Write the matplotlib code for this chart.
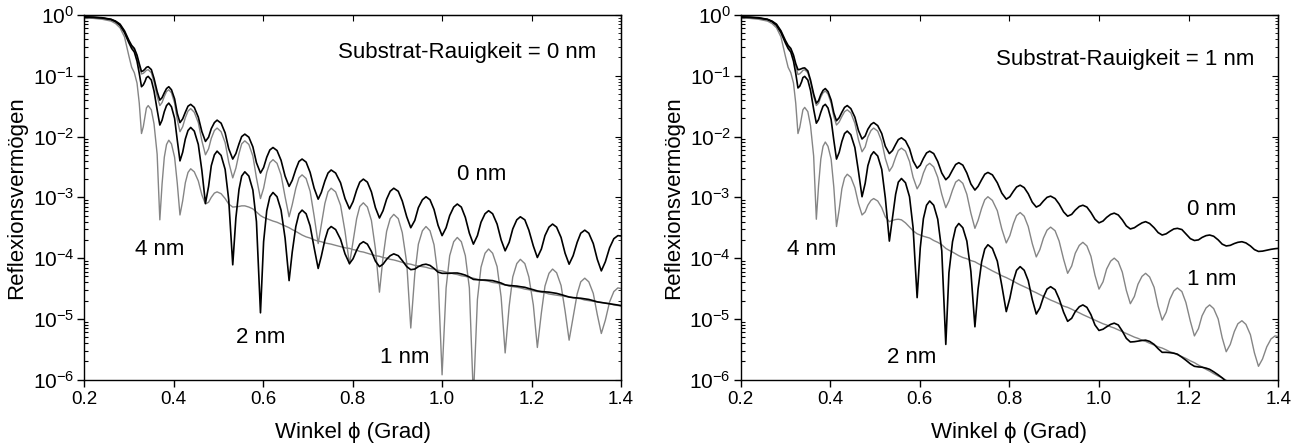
import numpy as np
import matplotlib.pyplot as plt
from matplotlib.ticker import FixedLocator, NullFormatter

plt.rcParams['font.family'] = ['Liberation Sans', 'DejaVu Sans']
plt.rcParams['mathtext.fontset'] = 'custom'
plt.rcParams['mathtext.rm'] = 'Liberation Sans'
plt.rcParams['mathtext.it'] = 'Liberation Sans:italic'

# angle (degrees) shared by all curves; after the edge, one row per fringe:
# minimum, three rising points, peak, three falling points
phi = [0.20, 0.22, 0.24, 0.26, 0.27, 0.28, 0.29, 0.30, 0.306, 0.312, 0.318, 0.323,
       0.328, 0.332, 0.336, 0.339, 0.343, 0.350, 0.356, 0.363,
       0.369, 0.374, 0.379, 0.384, 0.389, 0.395, 0.402, 0.408,
       0.414, 0.420, 0.426, 0.432, 0.438, 0.446, 0.455, 0.463,
       0.471, 0.478, 0.484, 0.491, 0.497, 0.506, 0.515, 0.523,
       0.532, 0.539, 0.546, 0.552, 0.559, 0.568, 0.577, 0.585,
       0.594, 0.601, 0.608, 0.615, 0.622, 0.631, 0.640, 0.649,
       0.658, 0.665, 0.673, 0.680, 0.687, 0.696, 0.705, 0.714,
       0.723, 0.730, 0.738, 0.745, 0.752, 0.762, 0.773, 0.783,
       0.793, 0.801, 0.809, 0.816, 0.824, 0.833, 0.842, 0.851,
       0.860, 0.868, 0.876, 0.884, 0.892, 0.902, 0.911, 0.921,
       0.930, 0.939, 0.947, 0.956, 0.964, 0.973, 0.982, 0.991,
       1.000, 1.009, 1.017, 1.026, 1.034, 1.043, 1.052, 1.061,
       1.070, 1.079, 1.087, 1.096, 1.104, 1.113, 1.123, 1.132,
       1.141, 1.150, 1.158, 1.167, 1.175, 1.185, 1.194, 1.204,
       1.213, 1.222, 1.230, 1.239, 1.247, 1.256, 1.266, 1.275,
       1.284, 1.293, 1.302, 1.310, 1.319, 1.328, 1.338, 1.347,
       1.356, 1.365, 1.3745, 1.384, 1.393, 1.400]

# log10 of the reflectivity
# left panel: substrate roughness 0 nm
left_0nm = [-0.03, -0.035, -0.045, -0.07, -0.10, -0.15, -0.26, -0.42, -0.50, -0.55, -0.66, -0.80,
            -0.93, -0.917, -0.888, -0.861, -0.85, -0.898, -1.043, -1.26,
            -1.40, -1.36, -1.28, -1.21, -1.18, -1.23, -1.38, -1.62,
            -1.77, -1.71, -1.60, -1.50, -1.47, -1.52, -1.68, -1.92,
            -2.08, -2.01, -1.87, -1.77, -1.73, -1.78, -1.94, -2.20,
            -2.37, -2.28, -2.12, -2.00, -1.96, -2.01, -2.17, -2.43,
            -2.60, -2.51, -2.34, -2.22, -2.18, -2.23, -2.39, -2.65,
            -2.82, -2.72, -2.54, -2.41, -2.37, -2.42, -2.59, -2.85,
            -3.03, -2.92, -2.73, -2.60, -2.55, -2.60, -2.76, -3.02,
            -3.19, -3.07, -2.88, -2.75, -2.70, -2.75, -2.91, -3.17,
            -3.34, -3.22, -3.03, -2.90, -2.85, -2.90, -3.06, -3.32,
            -3.50, -3.38, -3.17, -3.04, -2.99, -3.04, -3.20, -3.46,
            -3.63, -3.50, -3.30, -3.16, -3.11, -3.16, -3.33, -3.59,
            -3.77, -3.63, -3.41, -3.27, -3.22, -3.27, -3.44, -3.70,
            -3.88, -3.74, -3.52, -3.37, -3.32, -3.37, -3.54, -3.80,
            -3.99, -3.85, -3.63, -3.49, -3.44, -3.49, -3.66, -3.92,
            -4.10, -3.96, -3.74, -3.59, -3.54, -3.59, -3.76, -4.02,
            -4.21, -4.06, -3.83, -3.68, -3.63, -3.635]
left_1nm = [-0.035, -0.04, -0.05, -0.075, -0.105, -0.16, -0.27, -0.44, -0.52, -0.57, -0.69, -0.84,
            -0.97, -0.96, -0.933, -0.909, -0.90, -0.95, -1.10, -1.34,
            -1.49, -1.44, -1.34, -1.26, -1.23, -1.28, -1.45, -1.72,
            -1.92, -1.84, -1.69, -1.58, -1.54, -1.60, -1.77, -2.07,
            -2.30, -2.20, -2.03, -1.90, -1.86, -1.92, -2.10, -2.42,
            -2.68, -2.52, -2.28, -2.12, -2.07, -2.13, -2.32, -2.68,
            -3.02, -2.85, -2.59, -2.43, -2.38, -2.44, -2.63, -2.99,
            -3.32, -3.12, -2.85, -2.68, -2.63, -2.69, -2.90, -3.31,
            -3.76, -3.45, -3.10, -2.91, -2.85, -2.91, -3.13, -3.56,
            -4.10, -3.73, -3.35, -3.15, -3.09, -3.16, -3.38, -3.85,
            -4.56, -3.99, -3.56, -3.35, -3.28, -3.35, -3.58, -4.08,
            -5.15, -4.26, -3.77, -3.55, -3.48, -3.55, -3.78, -4.30,
            -5.92, -4.49, -3.96, -3.73, -3.66, -3.73, -3.96, -4.49,
            -6.30, -4.68, -4.15, -3.92, -3.85, -3.92, -4.14, -4.64,
            -5.56, -4.79, -4.31, -4.09, -4.02, -4.09, -4.31, -4.77,
            -5.47, -4.90, -4.46, -4.25, -4.18, -4.24, -4.45, -4.87,
            -5.35, -4.97, -4.59, -4.39, -4.33, -4.39, -4.58, -4.93,
            -5.24, -5.02, -4.72, -4.55, -4.49, -4.50]
left_2nm = [-0.035, -0.04, -0.05, -0.075, -0.11, -0.17, -0.29, -0.46, -0.55, -0.61, -0.76, -0.96,
            -1.18, -1.15, -1.09, -1.03, -1.01, -1.07, -1.25, -1.56,
            -1.81, -1.73, -1.59, -1.49, -1.45, -1.51, -1.70, -2.06,
            -2.40, -2.26, -2.04, -1.90, -1.85, -1.91, -2.13, -2.56,
            -3.10, -2.82, -2.48, -2.30, -2.24, -2.31, -2.54, -3.04,
            -4.11, -3.34, -2.87, -2.65, -2.58, -2.65, -2.88, -3.40,
            -4.90, -3.73, -3.22, -2.99, -2.92, -2.99, -3.21, -3.67,
            -4.37, -3.90, -3.48, -3.27, -3.21, -3.27, -3.47, -3.83,
            -4.17, -3.97, -3.70, -3.53, -3.48, -3.53, -3.69, -3.93,
            -4.09, -4.01, -3.87, -3.77, -3.73, -3.77, -3.89, -4.05,
            -4.14, -4.10, -4.02, -3.96, -3.93, -3.96, -4.04, -4.14,
            -4.19, -4.18, -4.14, -4.11, -4.10, -4.12, -4.17, -4.23,
            -4.25, -4.25, -4.25, -4.245, -4.245, -4.26, -4.28, -4.31,
            -4.35, -4.355, -4.36, -4.36, -4.365, -4.37, -4.39, -4.41,
            -4.44, -4.45, -4.455, -4.46, -4.47, -4.48, -4.50, -4.52,
            -4.54, -4.55, -4.555, -4.56, -4.57, -4.58, -4.60, -4.62,
            -4.64, -4.65, -4.655, -4.66, -4.67, -4.68, -4.70, -4.72,
            -4.73, -4.74, -4.75, -4.76, -4.77, -4.78]
left_4nm = [-0.05, -0.055, -0.07, -0.10, -0.14, -0.21, -0.36, -0.68, -0.86, -0.95, -1.12, -1.45,
            -1.95, -1.84, -1.66, -1.53, -1.49, -1.56, -1.79, -2.29,
            -3.37, -2.78, -2.34, -2.13, -2.06, -2.12, -2.34, -2.77,
            -3.29, -3.06, -2.76, -2.59, -2.53, -2.58, -2.73, -2.96,
            -3.11, -3.08, -3.00, -2.93, -2.91, -2.94, -3.02, -3.11,
            -3.16, -3.155, -3.15, -3.14, -3.14, -3.16, -3.19, -3.24,
            -3.30, -3.33, -3.35, -3.37, -3.39, -3.41, -3.44, -3.47,
            -3.50, -3.53, -3.56, -3.59, -3.62, -3.65, -3.67, -3.70,
            -3.72, -3.73, -3.75, -3.76, -3.77, -3.79, -3.81, -3.83,
            -3.84, -3.86, -3.87, -3.89, -3.90, -3.92, -3.94, -3.96,
            -3.97, -3.99, -4.00, -4.02, -4.03, -4.05, -4.07, -4.09,
            -4.10, -4.12, -4.13, -4.14, -4.15, -4.17, -4.18, -4.20,
            -4.21, -4.23, -4.24, -4.26, -4.27, -4.29, -4.30, -4.32,
            -4.33, -4.35, -4.36, -4.37, -4.38, -4.40, -4.41, -4.43,
            -4.44, -4.46, -4.47, -4.48, -4.49, -4.51, -4.52, -4.54,
            -4.55, -4.56, -4.57, -4.59, -4.60, -4.61, -4.62, -4.63,
            -4.64, -4.65, -4.66, -4.67, -4.69, -4.70, -4.71, -4.72,
            -4.73, -4.74, -4.75, -4.77, -4.78, -4.79]

# right panel: substrate roughness 1 nm
right_0nm = [-0.03, -0.035, -0.045, -0.07, -0.10, -0.15, -0.26, -0.42, -0.50, -0.55, -0.66, -0.80,
             -0.90, -0.895, -0.884, -0.874, -0.87, -0.92, -1.07, -1.30,
             -1.45, -1.41, -1.31, -1.24, -1.21, -1.26, -1.40, -1.61,
             -1.74, -1.69, -1.60, -1.52, -1.49, -1.54, -1.68, -1.90,
             -2.04, -1.99, -1.88, -1.80, -1.77, -1.82, -1.95, -2.16,
             -2.28, -2.23, -2.13, -2.05, -2.02, -2.07, -2.20, -2.40,
             -2.52, -2.47, -2.36, -2.27, -2.24, -2.28, -2.41, -2.60,
             -2.71, -2.66, -2.55, -2.46, -2.43, -2.47, -2.60, -2.78,
             -2.88, -2.82, -2.71, -2.62, -2.59, -2.63, -2.76, -2.93,
             -3.03, -2.99, -2.90, -2.83, -2.80, -2.84, -2.94, -3.08,
             -3.16, -3.13, -3.06, -3.00, -2.98, -3.02, -3.11, -3.24,
             -3.31, -3.28, -3.21, -3.15, -3.13, -3.16, -3.25, -3.36,
             -3.42, -3.39, -3.33, -3.28, -3.26, -3.29, -3.37, -3.47,
             -3.52, -3.50, -3.46, -3.42, -3.40, -3.43, -3.50, -3.58,
             -3.62, -3.60, -3.56, -3.52, -3.51, -3.53, -3.60, -3.68,
             -3.71, -3.70, -3.66, -3.63, -3.62, -3.64, -3.70, -3.77,
             -3.80, -3.79, -3.76, -3.74, -3.73, -3.75, -3.80, -3.86,
             -3.89, -3.885, -3.87, -3.855, -3.845, -3.84]
right_1nm = [-0.035, -0.04, -0.05, -0.075, -0.105, -0.16, -0.27, -0.44, -0.52, -0.57, -0.69, -0.84,
             -0.98, -0.967, -0.938, -0.911, -0.90, -0.95, -1.10, -1.34,
             -1.49, -1.45, -1.35, -1.28, -1.25, -1.30, -1.45, -1.67,
             -1.81, -1.76, -1.67, -1.59, -1.56, -1.61, -1.78, -2.05,
             -2.25, -2.17, -2.01, -1.90, -1.86, -1.91, -2.08, -2.36,
             -2.57, -2.49, -2.34, -2.23, -2.19, -2.24, -2.41, -2.67,
             -2.86, -2.77, -2.60, -2.48, -2.44, -2.50, -2.67, -2.95,
             -3.17, -3.06, -2.88, -2.75, -2.71, -2.77, -2.95, -3.26,
             -3.51, -3.38, -3.18, -3.04, -2.99, -3.05, -3.22, -3.52,
             -3.75, -3.63, -3.43, -3.30, -3.25, -3.31, -3.48, -3.76,
             -3.98, -3.86, -3.67, -3.54, -3.49, -3.55, -3.72, -4.02,
             -4.25, -4.13, -3.92, -3.79, -3.74, -3.80, -3.97, -4.28,
             -4.51, -4.39, -4.18, -4.05, -4.00, -4.06, -4.23, -4.53,
             -4.75, -4.63, -4.43, -4.30, -4.25, -4.31, -4.48, -4.79,
             -5.02, -4.89, -4.68, -4.54, -4.49, -4.55, -4.73, -5.04,
             -5.28, -5.16, -4.95, -4.82, -4.77, -4.83, -5.00, -5.31,
             -5.54, -5.42, -5.21, -5.08, -5.03, -5.09, -5.26, -5.56,
             -5.78, -5.66, -5.46, -5.33, -5.28, -5.29]
right_2nm = [-0.035, -0.04, -0.05, -0.075, -0.11, -0.17, -0.29, -0.46, -0.55, -0.61, -0.76, -0.96,
             -1.20, -1.17, -1.10, -1.03, -1.01, -1.07, -1.24, -1.55,
             -1.78, -1.72, -1.60, -1.50, -1.47, -1.53, -1.72, -2.06,
             -2.37, -2.26, -2.08, -1.95, -1.91, -1.97, -2.18, -2.57,
             -2.99, -2.77, -2.48, -2.31, -2.25, -2.32, -2.54, -3.01,
             -3.72, -3.34, -2.95, -2.75, -2.69, -2.76, -2.99, -3.50,
             -4.65, -3.83, -3.35, -3.13, -3.06, -3.13, -3.36, -3.88,
             -5.42, -4.24, -3.73, -3.50, -3.43, -3.50, -3.72, -4.22,
             -5.13, -4.51, -4.06, -3.85, -3.78, -3.84, -4.05, -4.45,
             -4.88, -4.66, -4.37, -4.20, -4.14, -4.20, -4.37, -4.68,
             -4.92, -4.82, -4.64, -4.51, -4.47, -4.52, -4.67, -4.89,
             -5.04, -4.99, -4.88, -4.80, -4.77, -4.81, -4.93, -5.10,
             -5.19, -5.17, -5.13, -5.09, -5.07, -5.10, -5.20, -5.32,
             -5.38, -5.375, -5.365, -5.355, -5.35, -5.37, -5.42, -5.49,
             -5.55, -5.55, -5.555, -5.565, -5.58, -5.63, -5.68, -5.74,
             -5.78, -5.79, -5.795, -5.81, -5.83, -5.87, -5.92, -5.97,
             -6.03, -6.05, -6.08, -6.11, -6.13, -6.16, -6.19, -6.22,
             -6.25, -6.28, -6.31, -6.34, -6.37, -6.40]
right_4nm = [-0.05, -0.055, -0.07, -0.10, -0.14, -0.21, -0.36, -0.68, -0.86, -0.95, -1.12, -1.45,
             -1.95, -1.85, -1.68, -1.56, -1.52, -1.59, -1.82, -2.32,
             -3.36, -2.80, -2.37, -2.16, -2.09, -2.16, -2.37, -2.83,
             -3.48, -3.20, -2.86, -2.68, -2.62, -2.67, -2.84, -3.10,
             -3.29, -3.24, -3.13, -3.05, -3.02, -3.06, -3.17, -3.32,
             -3.40, -3.38, -3.365, -3.36, -3.37, -3.42, -3.49, -3.55,
             -3.60, -3.62, -3.64, -3.655, -3.67, -3.71, -3.74, -3.78,
             -3.84, -3.87, -3.90, -3.93, -3.96, -3.99, -4.01, -4.04,
             -4.06, -4.09, -4.12, -4.14, -4.17, -4.21, -4.25, -4.29,
             -4.32, -4.35, -4.38, -4.41, -4.44, -4.47, -4.50, -4.54,
             -4.57, -4.60, -4.63, -4.66, -4.69, -4.72, -4.75, -4.79,
             -4.81, -4.84, -4.87, -4.90, -4.93, -4.96, -4.99, -5.02,
             -5.05, -5.08, -5.10, -5.13, -5.15, -5.18, -5.21, -5.24,
             -5.27, -5.30, -5.32, -5.35, -5.37, -5.40, -5.43, -5.46,
             -5.48, -5.51, -5.54, -5.56, -5.59, -5.62, -5.65, -5.69,
             -5.72, -5.76, -5.79, -5.83, -5.86, -5.90, -5.94, -5.97,
             -6.01, -6.05, -6.08, -6.12, -6.15, -6.19, -6.23, -6.26,
             -6.30, -6.34, -6.37, -6.41, -6.45, -6.48]

black = '#000000'
gray = '#858585'
decades = [1e-6, 1e-5, 1e-4, 1e-3, 1e-2, 1e-1, 1e0]
decade_labels = [r'$10^{-6}$', r'$10^{-5}$', r'$10^{-4}$', r'$10^{-3}$',
                 r'$10^{-2}$', r'$10^{-1}$', r'$10^{0}$']
minors = [m * d for d in decades[:-1] for m in range(2, 10)]
xticks = [0.2, 0.4, 0.6, 0.8, 1.0, 1.2, 1.4]

panels = [
    {'rect': [0.0645, 0.1525, 0.411, 0.814],
     'curves': [(left_4nm, gray, 1.0), (left_1nm, gray, 1.0), (left_2nm, black, 1.2), (left_0nm, black, 1.2)],
     'title': ('Substrat-Rauigkeit = 0 nm', 1.057, -0.625),
     'labels': [('0 nm', 1.088, -2.62), ('4 nm', 0.368, -3.85), ('2 nm', 0.595, -5.30), ('1 nm', 0.917, -5.63)]},
    {'rect': [0.5671, 0.1525, 0.4116, 0.814],
     'curves': [(right_4nm, gray, 1.0), (right_1nm, gray, 1.0), (right_2nm, black, 1.2), (right_0nm, black, 1.2)],
     'title': ('Substrat-Rauigkeit = 1 nm', 1.058, -0.74),
     'labels': [('0 nm', 1.251, -3.20), ('1 nm', 1.251, -4.35), ('2 nm', 0.581, -5.63), ('4 nm', 0.358, -3.85)]},
]

fig = plt.figure(figsize=(13.06, 4.48), dpi=100)

for p in panels:
    ax = fig.add_axes(p['rect'])
    for vals, col, lw in p['curves']:
        ax.plot(phi, 10 ** np.array(vals), color=col, lw=lw, solid_joinstyle='round')
    ax.set_yscale('log')
    ax.set_xlim(0.2, 1.4)
    ax.set_ylim(1e-6, 1e0)

    ax.xaxis.set_major_locator(FixedLocator(xticks))
    ax.set_xticklabels(['0.2', '0.4', '0.6', '0.8', '1.0', '1.2', '1.4'])
    ax.yaxis.set_major_locator(FixedLocator(decades))
    ax.yaxis.set_minor_locator(FixedLocator(minors))
    ax.set_yticklabels(decade_labels)
    ax.yaxis.set_minor_formatter(NullFormatter())
    ax.tick_params(axis='x', which='major', direction='out', length=5, width=1, labelsize=13.5, pad=3)
    ax.tick_params(axis='y', which='major', direction='out', length=5, width=1, labelsize=15, pad=2)
    ax.tick_params(axis='y', which='minor', direction='in', length=3, width=0.8)
    for s in ax.spines.values():
        s.set_linewidth(1.0)

    top = ax.secondary_xaxis('top')
    top.xaxis.set_major_locator(FixedLocator(xticks))
    top.tick_params(direction='in', length=4, labeltop=False)
    right = ax.secondary_yaxis('right')
    right.set_yscale('log')
    right.yaxis.set_major_locator(FixedLocator(decades))
    right.yaxis.set_minor_locator(FixedLocator(minors))
    right.tick_params(which='major', direction='in', length=4, labelright=False)
    right.tick_params(which='minor', direction='in', length=2, labelright=False)

    ax.set_xlabel('Winkel ϕ (Grad)', fontsize=16, labelpad=10)
    ax.set_ylabel('Reflexionsvermögen', fontsize=16, labelpad=4)

    t, tx, ty = p['title']
    ax.text(tx, 10 ** ty, t, fontsize=16, ha='center', va='center')
    for t, tx, ty in p['labels']:
        ax.text(tx, 10 ** ty, t, fontsize=16, ha='center', va='center')

fig.savefig('out.png', dpi=100)
